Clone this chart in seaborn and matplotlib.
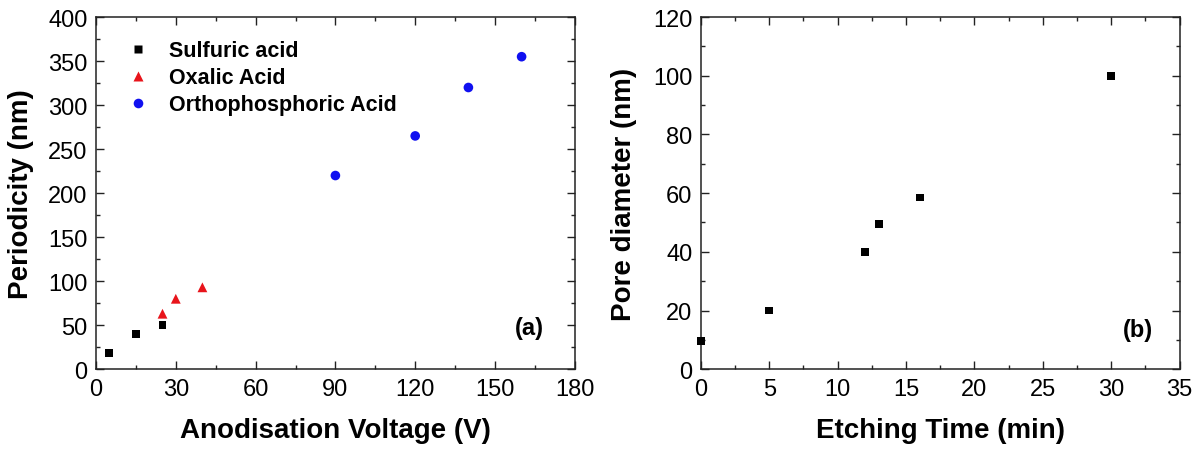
import numpy as np
import pandas as pd
import matplotlib
matplotlib.use("Agg")
import matplotlib.pyplot as plt
from matplotlib.ticker import MultipleLocator
import seaborn as sns

# Data (a): periodicity vs anodisation voltage
sulfuric_v = [5, 15, 25]
sulfuric_p = [18, 40, 50]
oxalic_v = [25, 30, 40]
oxalic_p = [63, 80, 93]
ortho_v = [90, 120, 140, 160]
ortho_p = [220, 265, 320, 355]

# Data (b): pore diameter vs etching time
etch_time = [0, 5, 12, 13, 16, 30]
pore_diam = [9.5, 20, 40, 49.5, 58.5, 100]

acid_names = ["Sulfuric acid", "Oxalic Acid", "Orthophosphoric Acid"]

sns.set_style("ticks")
plt.rcParams["font.family"] = ["Liberation Sans", "DejaVu Sans"]
plt.rcParams["text.color"] = "black"
plt.rcParams["axes.labelcolor"] = "black"

df_a = pd.DataFrame({
    "voltage": sulfuric_v + oxalic_v + ortho_v,
    "period": sulfuric_p + oxalic_p + ortho_p,
    "acid": [acid_names[0]] * len(sulfuric_v)
    + [acid_names[1]] * len(oxalic_v)
    + [acid_names[2]] * len(ortho_v),
})

df_b = pd.DataFrame({"time": etch_time, "diam": pore_diam})

fig = plt.figure(figsize=(12, 4.52), dpi=100)
ax1 = fig.add_axes([0.080, 0.181, 0.399, 0.779])
ax2 = fig.add_axes([0.584, 0.181, 0.399, 0.779])

sns.scatterplot(
    data=df_a, x="voltage", y="period",
    hue="acid", style="acid", size="acid",
    hue_order=acid_names, style_order=acid_names,
    palette={acid_names[0]: "black", acid_names[1]: "#e8141b", acid_names[2]: "#1010f0"},
    markers={acid_names[0]: "s", acid_names[1]: "^", acid_names[2]: "o"},
    sizes={acid_names[0]: 32, acid_names[1]: 50, acid_names[2]: 48},
    edgecolor="none", ax=ax1, clip_on=False, zorder=5,
)

sns.scatterplot(
    data=df_b, x="time", y="diam",
    color="black", marker="s", s=32, edgecolor="none",
    ax=ax2, clip_on=False, zorder=5,
)

# legend
handles, labels = ax1.get_legend_handles_labels()
leg = ax1.legend(
    handles, labels,
    loc="upper left", bbox_to_anchor=(0.025, 0.958), borderaxespad=0,
    frameon=False, handlelength=2.0, handletextpad=0.45, labelspacing=0.27,
    prop={"weight": "bold", "size": 15.5},
)

ax1.set_xlim(0, 180)
ax1.set_ylim(0, 400)
ax1.xaxis.set_major_locator(MultipleLocator(30))
ax1.xaxis.set_minor_locator(MultipleLocator(15))
ax1.yaxis.set_major_locator(MultipleLocator(50))
ax1.yaxis.set_minor_locator(MultipleLocator(25))
ax1.set_xlabel("Anodisation Voltage (V)", fontsize=20, fontweight="bold")
ax1.set_ylabel("Periodicity (nm)", fontsize=20, fontweight="bold")
ax1.xaxis.set_label_coords(0.5, -0.136)
ax1.yaxis.set_label_coords(-0.129, 0.5)
ax1.text(0.935, 0.119, "(a)", transform=ax1.transAxes, ha="right", va="center",
         fontsize=17, fontweight="bold")

ax2.set_xlim(0, 35)
ax2.set_ylim(0, 120)
ax2.xaxis.set_major_locator(MultipleLocator(5))
ax2.xaxis.set_minor_locator(MultipleLocator(2.5))
ax2.yaxis.set_major_locator(MultipleLocator(20))
ax2.yaxis.set_minor_locator(MultipleLocator(10))
ax2.set_xlabel("Etching Time (min)", fontsize=20, fontweight="bold")
ax2.set_ylabel("Pore diameter (nm)", fontsize=20, fontweight="bold")
ax2.xaxis.set_label_coords(0.5, -0.136)
ax2.yaxis.set_label_coords(-0.134, 0.5)
ax2.text(0.944, 0.114, "(b)", transform=ax2.transAxes, ha="right", va="center",
         fontsize=17, fontweight="bold")

for ax in [ax1, ax2]:
    for sp in ax.spines.values():
        sp.set_visible(True)
        sp.set_linewidth(1.1)
        sp.set_color("#222222")
    ax.tick_params(which="both", direction="in", top=True, right=True,
                   labelsize=17, colors="#222222", labelcolor="black")
    ax.tick_params(which="major", length=6, width=1.0, pad=6)
    ax.tick_params(which="minor", length=3, width=1.0)

fig.savefig("out.png", dpi=100)
